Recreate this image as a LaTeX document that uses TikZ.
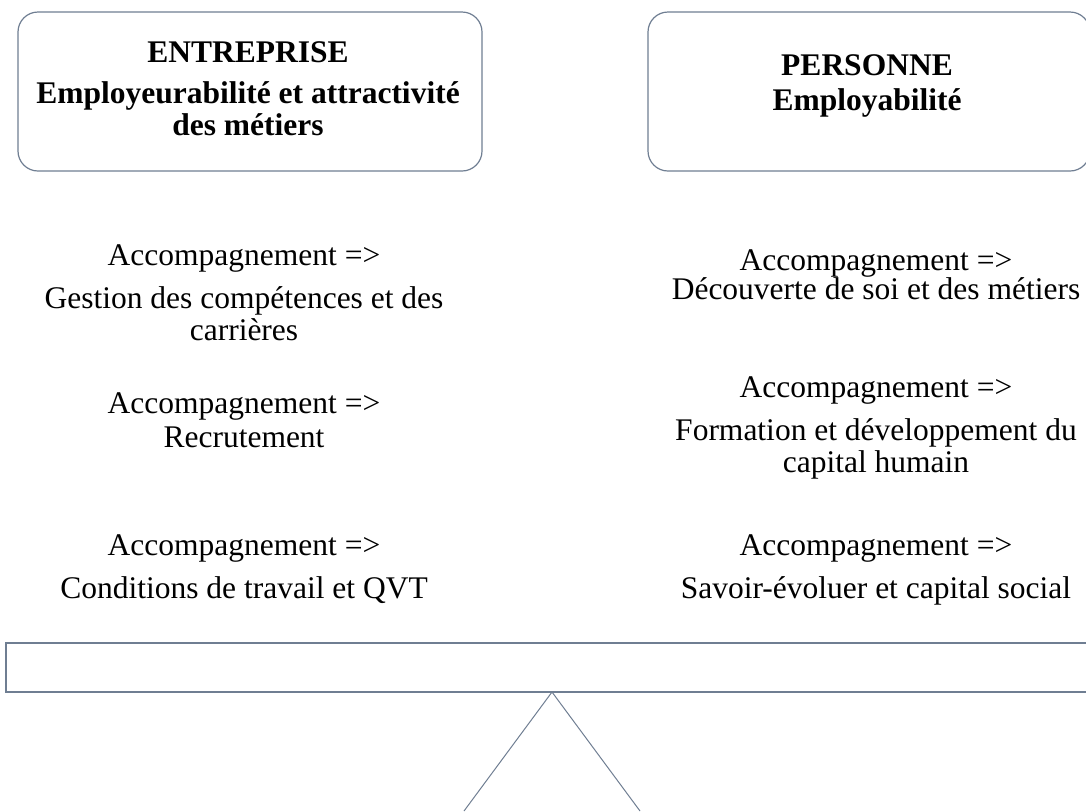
\documentclass[tikz,border=0pt]{standalone}
\usepackage{fontspec}
\setmainfont{Liberation Serif}
\usepackage{tikz}
\usetikzlibrary{positioning}
\usepackage{xcolor}
\definecolor{outline}{HTML}{6F7E92}

\begin{document}
\begin{tikzpicture}[
    x=0.5pt, y=-0.5pt,
    headbox/.style={draw=outline, line width=0.6pt, rounded corners=10pt, minimum height=79.5pt},
    headtext/.style={anchor=base, inner sep=0pt, align=center, font=\fontsize{15.75}{16}\selectfont\bfseries},
    acc/.style={anchor=base, inner sep=0pt, font=\fontsize{15.75}{16}\selectfont},
    desc/.style={anchor=base, inner sep=0pt, align=center, font=\fontsize{15.75}{16}\selectfont},
]
\clip (0,0) rectangle (1086,811);

% Top: the two sides of the balance
\node[headbox, minimum width=232pt] (entreprise) at (250,91.5) {};
\node[headtext] (entrepriseText) at (248,135) {ENTREPRISE\\[4.5pt]Employeurabilité et attractivité\\des métiers};
\node[headbox, minimum width=221pt] (personne) at (869,91.5) {};
\node[headtext] (personneText) at (867,110) {PERSONNE\\[1.5pt]Employabilité};

% Left column: company side
\node[acc] (e1) at (244,265) {Accompagnement =>};
\node[desc] (e1d) at (244,340) {Gestion des compétences et des\\carrières};
\node[acc] (e2) at (244,413) {Accompagnement =>};
\node[desc] (e2d) at (244,447) {Recrutement};
\node[acc] (e3) at (244,555) {Accompagnement =>};
\node[desc] (e3d) at (244,598) {Conditions de travail et QVT};

% Right column: person side
\node[acc] (p1) at (876,270) {Accompagnement =>};
\node[desc] (p1d) at (876,299) {Découverte de soi et des métiers};
\node[acc] (p2) at (876,397) {Accompagnement =>};
\node[desc] (p2d) at (876,472) {Formation et développement du\\capital humain};
\node[acc] (p3) at (876,555) {Accompagnement =>};
\node[desc] (p3d) at (876,598) {Savoir-évoluer et capital social};

% Bottom: plank and pivot
\draw[outline, line width=0.6pt] (6,643) rectangle (1100,692);
\coordinate (apex) at (552,692);
\draw[outline, line width=0.5pt] (464,811) -- (apex) -- (640,811);

\end{tikzpicture}
\end{document}
